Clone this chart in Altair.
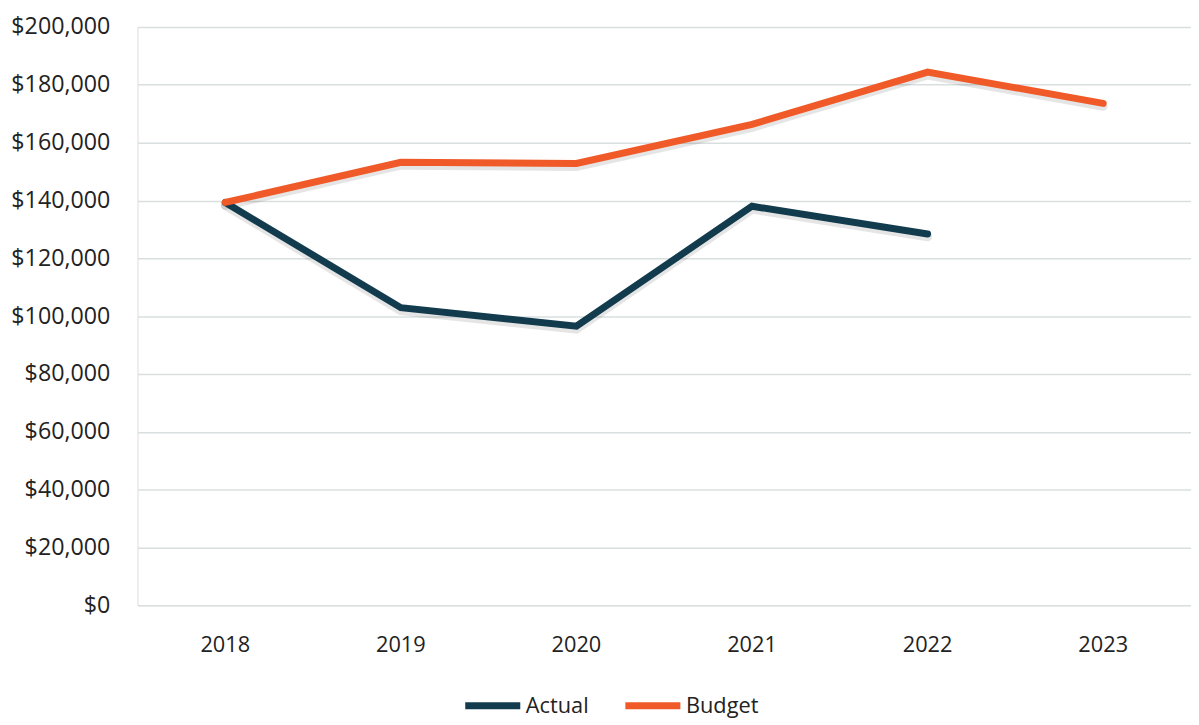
import altair as alt
import pandas as pd

years = ["2018", "2019", "2020", "2021", "2022", "2023"]
actual = [139300, 102900, 96500, 138000, 128400]
budget = [139300, 153200, 152800, 166300, 184400, 173600]
series_names = ["Actual", "Budget"]
series_colors = ["#123c4e", "#f05a28"]
y_ticks = list(range(0, 200001, 20000))

rows = []
for y, v in zip(years, actual):
    rows.append({"Year": y, "Series": "Actual", "Value": v})
for y, v in zip(years, budget):
    rows.append({"Year": y, "Series": "Budget", "Value": v})
df = pd.DataFrame(rows)

FONT = "Open Sans"

x_enc = alt.X(
    "Year:N",
    sort=years,
    scale=alt.Scale(type="band", domain=years, paddingInner=0, paddingOuter=0),
    axis=alt.Axis(
        title=None,
        labelAngle=0,
        ticks=False,
        domain=False,
        grid=False,
        labelFont=FONT,
        labelFontSize=22,
        labelColor="#222222",
        labelPadding=30,
    ),
)
y_enc = alt.Y(
    "Value:Q",
    scale=alt.Scale(domain=[0, 200000], nice=False),
    axis=alt.Axis(
        title=None,
        values=y_ticks,
        format="$,.0f",
        ticks=False,
        domain=False,
        grid=True,
        gridColor="#d9dfdf",
        gridWidth=1.5,
        labelFont=FONT,
        labelFontSize=23.5,
        labelColor="#222222",
        labelPadding=28,
    ),
)

shadow = alt.Chart(df).mark_line(
    strokeWidth=9, strokeCap="round", strokeJoin="miter", color="#000000", opacity=0.1, yOffset=3
).encode(x=x_enc, y=y_enc, detail="Series:N")

lines = alt.Chart(df).mark_line(strokeWidth=7, strokeCap="round", strokeJoin="miter").encode(
    x=x_enc,
    y=y_enc,
    color=alt.Color(
        "Series:N",
        scale=alt.Scale(domain=series_names, range=series_colors),
        legend=alt.Legend(
            title=None,
            orient="none",
            legendX=328,
            legendY=655,
            direction="horizontal",
            symbolType="stroke",
            symbolSize=3100,
            symbolStrokeWidth=7,
            labelFont=FONT,
            labelFontSize=22,
            labelColor="#222222",
            labelOffset=2,
            columnPadding=22,
        ),
    ),
)

chart = (
    alt.layer(shadow, lines)
    .properties(
        width=1066,
        height=585,
        padding={"left": 131, "top": 15, "right": 0, "bottom": 117},
        autosize=alt.AutoSizeParams(type="none"),
    )
    .configure_view(stroke=None)
    .configure(background="white")
)

chart.save("out.html", embed_options={"renderer": "svg", "actions": False})
